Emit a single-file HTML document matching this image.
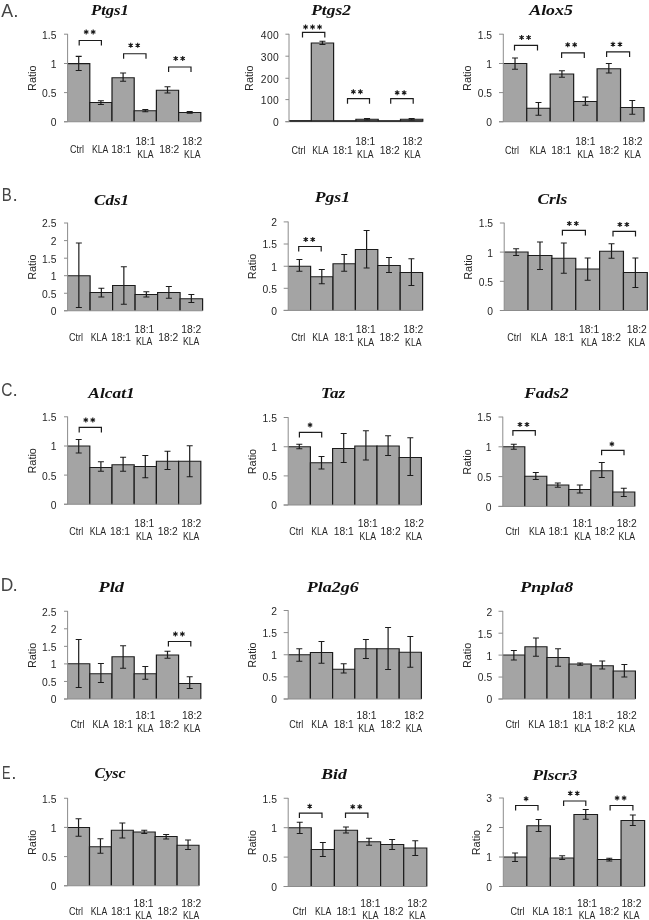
<!DOCTYPE html>
<html><head><meta charset="utf-8"><title>Figure</title><style>
html,body{margin:0;padding:0;background:#fff;}
body{width:649px;height:920px;overflow:hidden;}
svg{display:block;will-change:transform;}
text{font-family:"Liberation Sans",sans-serif;fill:#262626;}
.pl{font-size:19px;fill:#454545;}
.ti{font-family:"Liberation Serif",serif;font-weight:bold;font-style:italic;font-size:15px;text-anchor:start;fill:#111;}
.ra{font-size:10px;text-anchor:middle;}
.tk{font-size:10.3px;text-anchor:end;}
.lb{font-size:10.3px;text-anchor:middle;}
.st{font-size:15px;text-anchor:middle;letter-spacing:1.4px;}
</style></head><body>
<svg width="649" height="920" viewBox="0 0 649 920">
<rect width="649" height="920" fill="#fff"/>
<text transform="translate(1.35,16.6) scale(0.936,1)" class="pl">A</text>
<text x="13.35" y="16.6" class="pl">.</text>
<text transform="translate(1.86,200.5) scale(0.790,1)" class="pl">B</text>
<text x="12.45" y="200.5" class="pl">.</text>
<text transform="translate(1.13,395.5) scale(0.817,1)" class="pl">C</text>
<text x="12.45" y="395.5" class="pl">.</text>
<text transform="translate(0.73,590.5) scale(0.916,1)" class="pl">D</text>
<text x="12.45" y="590.5" class="pl">.</text>
<text transform="translate(2.04,778.7) scale(0.673,1)" class="pl">E</text>
<text x="11.35" y="778.7" class="pl">.</text>
<text transform="translate(91.00,14.6) scale(1.108,1)" class="ti">Ptgs1</text>
<text transform="translate(35.699999999999996,78.27) rotate(-90)" class="ra" textLength="25.4" lengthAdjust="spacingAndGlyphs">Ratio</text>
<rect x="67.60" y="63.60" width="22.20" height="58.15" fill="#a4a4a4"/>
<path d="M67.60 63.60H89.80V121.75" stroke="#1c1c1c" stroke-width="1.2" fill="none"/>
<rect x="89.80" y="102.50" width="22.20" height="19.25" fill="#a4a4a4"/>
<path d="M89.80 121.75V102.50H112.00V121.75" stroke="#1c1c1c" stroke-width="1.2" fill="none"/>
<rect x="112.00" y="77.75" width="22.20" height="44.00" fill="#a4a4a4"/>
<path d="M112.00 121.75V77.75H134.20V121.75" stroke="#1c1c1c" stroke-width="1.2" fill="none"/>
<rect x="134.20" y="110.75" width="22.20" height="11.00" fill="#a4a4a4"/>
<path d="M134.20 121.75V110.75H156.40V121.75" stroke="#1c1c1c" stroke-width="1.2" fill="none"/>
<rect x="156.40" y="90.25" width="22.20" height="31.50" fill="#a4a4a4"/>
<path d="M156.40 121.75V90.25H178.60V121.75" stroke="#1c1c1c" stroke-width="1.2" fill="none"/>
<rect x="178.60" y="112.50" width="22.20" height="9.25" fill="#a4a4a4"/>
<path d="M178.60 121.75V112.50H200.80V121.75" stroke="#1c1c1c" stroke-width="1.2" fill="none"/>
<path d="M67.60 33.90V121.75" stroke="#8c8c8c" stroke-width="1" fill="none"/>
<path d="M64.00 121.75H200.80" stroke="#8c8c8c" stroke-width="1" fill="none"/>
<path d="M64.00 121.75H67.60" stroke="#8c8c8c" stroke-width="1" fill="none"/>
<text x="56.40" y="126.15" class="tk">0</text>
<path d="M64.00 92.60H67.60" stroke="#8c8c8c" stroke-width="1" fill="none"/>
<text x="56.40" y="97.00" class="tk">0.5</text>
<path d="M64.00 63.50H67.60" stroke="#8c8c8c" stroke-width="1" fill="none"/>
<text x="56.40" y="67.90" class="tk">1</text>
<path d="M64.00 34.20H67.60" stroke="#8c8c8c" stroke-width="1" fill="none"/>
<text x="56.40" y="38.60" class="tk">1.5</text>
<path d="M75.70 56.40h6M78.70 56.40V70.50M75.70 70.50h6" stroke="#1c1c1c" stroke-width="1.2" fill="none"/>
<path d="M97.90 100.75h6M100.90 100.75V104.50M97.90 104.50h6" stroke="#1c1c1c" stroke-width="1.2" fill="none"/>
<path d="M120.10 73.00h6M123.10 73.00V81.25M120.10 81.25h6" stroke="#1c1c1c" stroke-width="1.2" fill="none"/>
<path d="M142.30 109.50h6M145.30 109.50V111.75M142.30 111.75h6" stroke="#1c1c1c" stroke-width="1.2" fill="none"/>
<path d="M164.50 86.75h6M167.50 86.75V93.00M164.50 93.00h6" stroke="#1c1c1c" stroke-width="1.2" fill="none"/>
<path d="M186.70 111.50h6M189.70 111.50V113.25M186.70 113.25h6" stroke="#1c1c1c" stroke-width="1.2" fill="none"/>
<path d="M79.20 45.50V40.50H101.40V45.50" stroke="#1c1c1c" stroke-width="1.2" fill="none"/>
<path d="M86.20 29.40v5M84.00 30.65l4.4 2.5M84.00 33.15l4.4 -2.5" stroke="#222" stroke-width="1.15" fill="none"/><circle cx="86.20" cy="31.90" r="1.15" fill="#1a1a1a"/>
<path d="M93.20 29.40v5M91.00 30.65l4.4 2.5M91.00 33.15l4.4 -2.5" stroke="#222" stroke-width="1.15" fill="none"/><circle cx="93.20" cy="31.90" r="1.15" fill="#1a1a1a"/>
<path d="M123.60 58.75V53.75H146.00V58.75" stroke="#1c1c1c" stroke-width="1.2" fill="none"/>
<path d="M130.70 42.65v5M128.50 43.90l4.4 2.5M128.50 46.40l4.4 -2.5" stroke="#222" stroke-width="1.15" fill="none"/><circle cx="130.70" cy="45.15" r="1.15" fill="#1a1a1a"/>
<path d="M137.70 42.65v5M135.50 43.90l4.4 2.5M135.50 46.40l4.4 -2.5" stroke="#222" stroke-width="1.15" fill="none"/><circle cx="137.70" cy="45.15" r="1.15" fill="#1a1a1a"/>
<path d="M168.60 72.00V67.00H191.00V72.00" stroke="#1c1c1c" stroke-width="1.2" fill="none"/>
<path d="M175.70 55.90v5M173.50 57.15l4.4 2.5M173.50 59.65l4.4 -2.5" stroke="#222" stroke-width="1.15" fill="none"/><circle cx="175.70" cy="58.40" r="1.15" fill="#1a1a1a"/>
<path d="M182.70 55.90v5M180.50 57.15l4.4 2.5M180.50 59.65l4.4 -2.5" stroke="#222" stroke-width="1.15" fill="none"/><circle cx="182.70" cy="58.40" r="1.15" fill="#1a1a1a"/>
<text x="76.9" y="153.40" class="lb" textLength="14.0" lengthAdjust="spacingAndGlyphs">Ctrl</text>
<text x="100.2" y="153.40" class="lb" textLength="16.4" lengthAdjust="spacingAndGlyphs">KLA</text>
<text x="121.3" y="153.40" class="lb">18:1</text>
<text x="145.4" y="144.90" class="lb">18:1</text>
<text x="145.4" y="157.80" class="lb" textLength="16.4" lengthAdjust="spacingAndGlyphs">KLA</text>
<text x="169.3" y="153.40" class="lb">18:2</text>
<text x="192.3" y="144.90" class="lb">18:2</text>
<text x="192.3" y="157.80" class="lb" textLength="16.4" lengthAdjust="spacingAndGlyphs">KLA</text>
<text transform="translate(311.25,14.7) scale(1.160,1)" class="ti">Ptgs2</text>
<text transform="translate(252.70000000000002,78.25) rotate(-90)" class="ra" textLength="25.4" lengthAdjust="spacingAndGlyphs">Ratio</text>
<line x1="289.00" x2="311.30" y1="120.90" y2="120.90" stroke="#1c1c1c" stroke-width="1.1"/>
<rect x="311.30" y="43.00" width="22.30" height="78.70" fill="#a4a4a4"/>
<path d="M311.30 121.70V43.00H333.60V121.70" stroke="#1c1c1c" stroke-width="1.2" fill="none"/>
<line x1="333.60" x2="355.90" y1="121.20" y2="121.20" stroke="#1c1c1c" stroke-width="1.1"/>
<rect x="355.90" y="119.25" width="22.30" height="2.45" fill="#a4a4a4"/>
<path d="M355.90 121.70V119.25H378.20V121.70" stroke="#1c1c1c" stroke-width="1.2" fill="none"/>
<line x1="378.20" x2="400.50" y1="121.20" y2="121.20" stroke="#1c1c1c" stroke-width="1.1"/>
<rect x="400.50" y="119.25" width="22.30" height="2.45" fill="#a4a4a4"/>
<path d="M400.50 121.70V119.25H422.80V121.70" stroke="#1c1c1c" stroke-width="1.2" fill="none"/>
<path d="M289.00 33.90V121.70" stroke="#8c8c8c" stroke-width="1" fill="none"/>
<path d="M285.40 121.70H422.80" stroke="#8c8c8c" stroke-width="1" fill="none"/>
<path d="M289.50 120.95H422.80" stroke="#1c1c1c" stroke-width="1.5" fill="none"/>
<path d="M285.40 121.70H289.00" stroke="#8c8c8c" stroke-width="1" fill="none"/>
<text x="278.80" y="126.10" class="tk">0</text>
<path d="M285.40 99.60H289.00" stroke="#8c8c8c" stroke-width="1" fill="none"/>
<text x="279.25" y="104.00" class="tk" style="letter-spacing:0.4px">100</text>
<path d="M285.40 78.25H289.00" stroke="#8c8c8c" stroke-width="1" fill="none"/>
<text x="279.25" y="82.65" class="tk" style="letter-spacing:0.4px">200</text>
<path d="M285.40 56.20H289.00" stroke="#8c8c8c" stroke-width="1" fill="none"/>
<text x="279.25" y="60.60" class="tk" style="letter-spacing:0.4px">300</text>
<path d="M285.40 34.20H289.00" stroke="#8c8c8c" stroke-width="1" fill="none"/>
<text x="279.25" y="38.60" class="tk" style="letter-spacing:0.4px">400</text>
<path d="M319.45 41.25h6M322.45 41.25V44.50M319.45 44.50h6" stroke="#1c1c1c" stroke-width="1.2" fill="none"/>
<path d="M364.05 118.50h6M367.05 118.50V120.00M364.05 120.00h6" stroke="#1c1c1c" stroke-width="1.2" fill="none"/>
<path d="M408.65 118.50h6M411.65 118.50V120.00M408.65 120.00h6" stroke="#1c1c1c" stroke-width="1.2" fill="none"/>
<path d="M302.50 37.40V32.40H324.80V37.40" stroke="#1c1c1c" stroke-width="1.2" fill="none"/>
<path d="M305.55 24.50v5M303.35 25.75l4.4 2.5M303.35 28.25l4.4 -2.5" stroke="#222" stroke-width="1.15" fill="none"/><circle cx="305.55" cy="27.00" r="1.15" fill="#1a1a1a"/>
<path d="M312.55 24.50v5M310.35 25.75l4.4 2.5M310.35 28.25l4.4 -2.5" stroke="#222" stroke-width="1.15" fill="none"/><circle cx="312.55" cy="27.00" r="1.15" fill="#1a1a1a"/>
<path d="M319.55 24.50v5M317.35 25.75l4.4 2.5M317.35 28.25l4.4 -2.5" stroke="#222" stroke-width="1.15" fill="none"/><circle cx="319.55" cy="27.00" r="1.15" fill="#1a1a1a"/>
<path d="M347.50 103.70V98.70H369.50V103.70" stroke="#1c1c1c" stroke-width="1.2" fill="none"/>
<path d="M353.40 89.20v5M351.20 90.45l4.4 2.5M351.20 92.95l4.4 -2.5" stroke="#222" stroke-width="1.15" fill="none"/><circle cx="353.40" cy="91.70" r="1.15" fill="#1a1a1a"/>
<path d="M360.40 89.20v5M358.20 90.45l4.4 2.5M358.20 92.95l4.4 -2.5" stroke="#222" stroke-width="1.15" fill="none"/><circle cx="360.40" cy="91.70" r="1.15" fill="#1a1a1a"/>
<path d="M390.70 103.70V98.70H413.20V103.70" stroke="#1c1c1c" stroke-width="1.2" fill="none"/>
<path d="M397.15 90.20v5M394.95 91.45l4.4 2.5M394.95 93.95l4.4 -2.5" stroke="#222" stroke-width="1.15" fill="none"/><circle cx="397.15" cy="92.70" r="1.15" fill="#1a1a1a"/>
<path d="M404.15 90.20v5M401.95 91.45l4.4 2.5M401.95 93.95l4.4 -2.5" stroke="#222" stroke-width="1.15" fill="none"/><circle cx="404.15" cy="92.70" r="1.15" fill="#1a1a1a"/>
<text x="298.6" y="153.50" class="lb" textLength="14.0" lengthAdjust="spacingAndGlyphs">Ctrl</text>
<text x="320.4" y="153.50" class="lb" textLength="16.4" lengthAdjust="spacingAndGlyphs">KLA</text>
<text x="342.7" y="153.50" class="lb">18:1</text>
<text x="365.3" y="144.90" class="lb">18:1</text>
<text x="365.3" y="157.80" class="lb" textLength="16.4" lengthAdjust="spacingAndGlyphs">KLA</text>
<text x="389.75" y="153.50" class="lb">18:2</text>
<text x="412.4" y="144.90" class="lb">18:2</text>
<text x="412.4" y="157.80" class="lb" textLength="16.4" lengthAdjust="spacingAndGlyphs">KLA</text>
<text transform="translate(529.20,14.6) scale(1.195,1)" class="ti">Alox5</text>
<text transform="translate(470.7,78.27) rotate(-90)" class="ra" textLength="25.4" lengthAdjust="spacingAndGlyphs">Ratio</text>
<rect x="503.30" y="63.50" width="23.45" height="58.25" fill="#a4a4a4"/>
<path d="M503.30 63.50H526.75V121.75" stroke="#1c1c1c" stroke-width="1.2" fill="none"/>
<rect x="526.75" y="108.25" width="23.45" height="13.50" fill="#a4a4a4"/>
<path d="M526.75 121.75V108.25H550.20V121.75" stroke="#1c1c1c" stroke-width="1.2" fill="none"/>
<rect x="550.20" y="74.00" width="23.45" height="47.75" fill="#a4a4a4"/>
<path d="M550.20 121.75V74.00H573.65V121.75" stroke="#1c1c1c" stroke-width="1.2" fill="none"/>
<rect x="573.65" y="101.50" width="23.45" height="20.25" fill="#a4a4a4"/>
<path d="M573.65 121.75V101.50H597.10V121.75" stroke="#1c1c1c" stroke-width="1.2" fill="none"/>
<rect x="597.10" y="68.75" width="23.45" height="53.00" fill="#a4a4a4"/>
<path d="M597.10 121.75V68.75H620.55V121.75" stroke="#1c1c1c" stroke-width="1.2" fill="none"/>
<rect x="620.55" y="107.50" width="23.45" height="14.25" fill="#a4a4a4"/>
<path d="M620.55 121.75V107.50H644.00V121.75" stroke="#1c1c1c" stroke-width="1.2" fill="none"/>
<path d="M503.30 33.90V121.75" stroke="#8c8c8c" stroke-width="1" fill="none"/>
<path d="M499.00 121.75H644.00" stroke="#8c8c8c" stroke-width="1" fill="none"/>
<path d="M499.00 121.75H503.30" stroke="#8c8c8c" stroke-width="1" fill="none"/>
<text x="492.10" y="126.15" class="tk">0</text>
<path d="M499.00 92.60H503.30" stroke="#8c8c8c" stroke-width="1" fill="none"/>
<text x="492.10" y="97.00" class="tk">0.5</text>
<path d="M499.00 63.50H503.30" stroke="#8c8c8c" stroke-width="1" fill="none"/>
<text x="492.10" y="67.90" class="tk">1</text>
<path d="M499.00 34.20H503.30" stroke="#8c8c8c" stroke-width="1" fill="none"/>
<text x="492.10" y="38.60" class="tk">1.5</text>
<path d="M512.02 58.00h6M515.02 58.00V69.25M512.02 69.25h6" stroke="#1c1c1c" stroke-width="1.2" fill="none"/>
<path d="M535.48 102.50h6M538.48 102.50V115.25M535.48 115.25h6" stroke="#1c1c1c" stroke-width="1.2" fill="none"/>
<path d="M558.92 70.75h6M561.92 70.75V77.25M558.92 77.25h6" stroke="#1c1c1c" stroke-width="1.2" fill="none"/>
<path d="M582.38 97.00h6M585.38 97.00V105.25M582.38 105.25h6" stroke="#1c1c1c" stroke-width="1.2" fill="none"/>
<path d="M605.83 63.50h6M608.83 63.50V73.00M605.83 73.00h6" stroke="#1c1c1c" stroke-width="1.2" fill="none"/>
<path d="M629.27 100.50h6M632.27 100.50V114.25M629.27 114.25h6" stroke="#1c1c1c" stroke-width="1.2" fill="none"/>
<path d="M514.50 50.40V45.40H537.50V50.40" stroke="#1c1c1c" stroke-width="1.2" fill="none"/>
<path d="M521.60 35.10v5M519.40 36.35l4.4 2.5M519.40 38.85l4.4 -2.5" stroke="#222" stroke-width="1.15" fill="none"/><circle cx="521.60" cy="37.60" r="1.15" fill="#1a1a1a"/>
<path d="M528.60 35.10v5M526.40 36.35l4.4 2.5M526.40 38.85l4.4 -2.5" stroke="#222" stroke-width="1.15" fill="none"/><circle cx="528.60" cy="37.60" r="1.15" fill="#1a1a1a"/>
<path d="M561.60 57.90V52.90H584.30V57.90" stroke="#1c1c1c" stroke-width="1.2" fill="none"/>
<path d="M567.70 42.20v5M565.50 43.45l4.4 2.5M565.50 45.95l4.4 -2.5" stroke="#222" stroke-width="1.15" fill="none"/><circle cx="567.70" cy="44.70" r="1.15" fill="#1a1a1a"/>
<path d="M574.70 42.20v5M572.50 43.45l4.4 2.5M572.50 45.95l4.4 -2.5" stroke="#222" stroke-width="1.15" fill="none"/><circle cx="574.70" cy="44.70" r="1.15" fill="#1a1a1a"/>
<path d="M606.60 56.90V51.90H629.60V56.90" stroke="#1c1c1c" stroke-width="1.2" fill="none"/>
<path d="M612.95 41.80v5M610.75 43.05l4.4 2.5M610.75 45.55l4.4 -2.5" stroke="#222" stroke-width="1.15" fill="none"/><circle cx="612.95" cy="44.30" r="1.15" fill="#1a1a1a"/>
<path d="M619.95 41.80v5M617.75 43.05l4.4 2.5M617.75 45.55l4.4 -2.5" stroke="#222" stroke-width="1.15" fill="none"/><circle cx="619.95" cy="44.30" r="1.15" fill="#1a1a1a"/>
<text x="512" y="153.50" class="lb" textLength="14.0" lengthAdjust="spacingAndGlyphs">Ctrl</text>
<text x="537.9" y="153.50" class="lb" textLength="16.4" lengthAdjust="spacingAndGlyphs">KLA</text>
<text x="561.3" y="153.50" class="lb">18:1</text>
<text x="585.35" y="144.90" class="lb">18:1</text>
<text x="585.35" y="158.00" class="lb" textLength="16.4" lengthAdjust="spacingAndGlyphs">KLA</text>
<text x="609.1" y="153.50" class="lb">18:2</text>
<text x="632.5" y="144.90" class="lb">18:2</text>
<text x="632.5" y="158.00" class="lb" textLength="16.4" lengthAdjust="spacingAndGlyphs">KLA</text>
<text transform="translate(94.03,205) scale(1.137,1)" class="ti">Cds1</text>
<text transform="translate(35.699999999999996,267.18) rotate(-90)" class="ra" textLength="25.4" lengthAdjust="spacingAndGlyphs">Ratio</text>
<rect x="67.60" y="275.75" width="22.50" height="35.00" fill="#a4a4a4"/>
<path d="M67.60 275.75H90.10V310.75" stroke="#1c1c1c" stroke-width="1.2" fill="none"/>
<rect x="90.10" y="292.50" width="22.50" height="18.25" fill="#a4a4a4"/>
<path d="M90.10 310.75V292.50H112.60V310.75" stroke="#1c1c1c" stroke-width="1.2" fill="none"/>
<rect x="112.60" y="285.50" width="22.50" height="25.25" fill="#a4a4a4"/>
<path d="M112.60 310.75V285.50H135.10V310.75" stroke="#1c1c1c" stroke-width="1.2" fill="none"/>
<rect x="135.10" y="294.50" width="22.50" height="16.25" fill="#a4a4a4"/>
<path d="M135.10 310.75V294.50H157.60V310.75" stroke="#1c1c1c" stroke-width="1.2" fill="none"/>
<rect x="157.60" y="292.50" width="22.50" height="18.25" fill="#a4a4a4"/>
<path d="M157.60 310.75V292.50H180.10V310.75" stroke="#1c1c1c" stroke-width="1.2" fill="none"/>
<rect x="180.10" y="298.75" width="22.50" height="12.00" fill="#a4a4a4"/>
<path d="M180.10 310.75V298.75H202.60V310.75" stroke="#1c1c1c" stroke-width="1.2" fill="none"/>
<path d="M67.60 222.70V310.75" stroke="#8c8c8c" stroke-width="1" fill="none"/>
<path d="M64.00 310.75H202.60" stroke="#8c8c8c" stroke-width="1" fill="none"/>
<path d="M64.00 310.75H67.60" stroke="#8c8c8c" stroke-width="1" fill="none"/>
<text x="56.40" y="315.15" class="tk">0</text>
<path d="M64.00 293.25H67.60" stroke="#8c8c8c" stroke-width="1" fill="none"/>
<text x="56.40" y="297.65" class="tk">0.5</text>
<path d="M64.00 275.70H67.60" stroke="#8c8c8c" stroke-width="1" fill="none"/>
<text x="56.40" y="280.10" class="tk">1</text>
<path d="M64.00 258.20H67.60" stroke="#8c8c8c" stroke-width="1" fill="none"/>
<text x="56.40" y="262.60" class="tk">1.5</text>
<path d="M64.00 240.60H67.60" stroke="#8c8c8c" stroke-width="1" fill="none"/>
<text x="56.40" y="245.00" class="tk">2</text>
<path d="M64.00 223.00H67.60" stroke="#8c8c8c" stroke-width="1" fill="none"/>
<text x="56.40" y="227.40" class="tk">2.5</text>
<path d="M75.85 243.00h6M78.85 243.00V307.50M75.85 307.50h6" stroke="#1c1c1c" stroke-width="1.2" fill="none"/>
<path d="M98.35 288.25h6M101.35 288.25V297.00M98.35 297.00h6" stroke="#1c1c1c" stroke-width="1.2" fill="none"/>
<path d="M120.85 266.75h6M123.85 266.75V304.25M120.85 304.25h6" stroke="#1c1c1c" stroke-width="1.2" fill="none"/>
<path d="M143.35 291.75h6M146.35 291.75V297.00M143.35 297.00h6" stroke="#1c1c1c" stroke-width="1.2" fill="none"/>
<path d="M165.85 286.50h6M168.85 286.50V298.25M165.85 298.25h6" stroke="#1c1c1c" stroke-width="1.2" fill="none"/>
<path d="M188.35 294.50h6M191.35 294.50V302.50M188.35 302.50h6" stroke="#1c1c1c" stroke-width="1.2" fill="none"/>
<text x="76.1" y="340.85" class="lb" textLength="14.0" lengthAdjust="spacingAndGlyphs">Ctrl</text>
<text x="99.0" y="340.85" class="lb" textLength="16.4" lengthAdjust="spacingAndGlyphs">KLA</text>
<text x="121.0" y="340.85" class="lb">18:1</text>
<text x="144.2" y="332.55" class="lb">18:1</text>
<text x="144.2" y="345.15" class="lb" textLength="16.4" lengthAdjust="spacingAndGlyphs">KLA</text>
<text x="168.2" y="340.85" class="lb">18:2</text>
<text x="191.2" y="332.55" class="lb">18:2</text>
<text x="191.2" y="345.15" class="lb" textLength="16.4" lengthAdjust="spacingAndGlyphs">KLA</text>
<text transform="translate(314.70,202.4) scale(1.179,1)" class="ti">Pgs1</text>
<text transform="translate(255.8,266.45) rotate(-90)" class="ra" textLength="25.4" lengthAdjust="spacingAndGlyphs">Ratio</text>
<rect x="288.20" y="266.25" width="22.40" height="44.15" fill="#a4a4a4"/>
<path d="M288.20 266.25H310.60V310.40" stroke="#1c1c1c" stroke-width="1.2" fill="none"/>
<rect x="310.60" y="276.75" width="22.40" height="33.65" fill="#a4a4a4"/>
<path d="M310.60 310.40V276.75H333.00V310.40" stroke="#1c1c1c" stroke-width="1.2" fill="none"/>
<rect x="333.00" y="263.75" width="22.40" height="46.65" fill="#a4a4a4"/>
<path d="M333.00 310.40V263.75H355.40V310.40" stroke="#1c1c1c" stroke-width="1.2" fill="none"/>
<rect x="355.40" y="249.50" width="22.40" height="60.90" fill="#a4a4a4"/>
<path d="M355.40 310.40V249.50H377.80V310.40" stroke="#1c1c1c" stroke-width="1.2" fill="none"/>
<rect x="377.80" y="265.50" width="22.40" height="44.90" fill="#a4a4a4"/>
<path d="M377.80 310.40V265.50H400.20V310.40" stroke="#1c1c1c" stroke-width="1.2" fill="none"/>
<rect x="400.20" y="272.50" width="22.40" height="37.90" fill="#a4a4a4"/>
<path d="M400.20 310.40V272.50H422.60V310.40" stroke="#1c1c1c" stroke-width="1.2" fill="none"/>
<path d="M288.20 221.60V310.40" stroke="#8c8c8c" stroke-width="1" fill="none"/>
<path d="M283.70 310.40H422.60" stroke="#8c8c8c" stroke-width="1" fill="none"/>
<path d="M283.70 310.40H288.20" stroke="#8c8c8c" stroke-width="1" fill="none"/>
<text x="276.90" y="314.80" class="tk">0</text>
<path d="M283.70 288.30H288.20" stroke="#8c8c8c" stroke-width="1" fill="none"/>
<text x="276.90" y="292.70" class="tk">0.5</text>
<path d="M283.70 266.25H288.20" stroke="#8c8c8c" stroke-width="1" fill="none"/>
<text x="276.90" y="270.65" class="tk">1</text>
<path d="M283.70 244.00H288.20" stroke="#8c8c8c" stroke-width="1" fill="none"/>
<text x="276.90" y="248.40" class="tk">1.5</text>
<path d="M283.70 221.90H288.20" stroke="#8c8c8c" stroke-width="1" fill="none"/>
<text x="276.90" y="226.30" class="tk">2</text>
<path d="M296.40 259.50h6M299.40 259.50V271.25M296.40 271.25h6" stroke="#1c1c1c" stroke-width="1.2" fill="none"/>
<path d="M318.80 269.50h6M321.80 269.50V283.75M318.80 283.75h6" stroke="#1c1c1c" stroke-width="1.2" fill="none"/>
<path d="M341.20 254.50h6M344.20 254.50V271.25M341.20 271.25h6" stroke="#1c1c1c" stroke-width="1.2" fill="none"/>
<path d="M363.60 230.50h6M366.60 230.50V268.00M363.60 268.00h6" stroke="#1c1c1c" stroke-width="1.2" fill="none"/>
<path d="M386.00 257.50h6M389.00 257.50V272.50M386.00 272.50h6" stroke="#1c1c1c" stroke-width="1.2" fill="none"/>
<path d="M408.40 258.75h6M411.40 258.75V285.50M408.40 285.50h6" stroke="#1c1c1c" stroke-width="1.2" fill="none"/>
<path d="M298.70 251.50V246.50H321.20V251.50" stroke="#1c1c1c" stroke-width="1.2" fill="none"/>
<path d="M305.75 237.00v5M303.55 238.25l4.4 2.5M303.55 240.75l4.4 -2.5" stroke="#222" stroke-width="1.15" fill="none"/><circle cx="305.75" cy="239.50" r="1.15" fill="#1a1a1a"/>
<path d="M312.75 237.00v5M310.55 238.25l4.4 2.5M310.55 240.75l4.4 -2.5" stroke="#222" stroke-width="1.15" fill="none"/><circle cx="312.75" cy="239.50" r="1.15" fill="#1a1a1a"/>
<text x="298.2" y="340.85" class="lb" textLength="14.0" lengthAdjust="spacingAndGlyphs">Ctrl</text>
<text x="320.4" y="340.85" class="lb" textLength="16.4" lengthAdjust="spacingAndGlyphs">KLA</text>
<text x="343.9" y="340.85" class="lb">18:1</text>
<text x="365.8" y="332.55" class="lb">18:1</text>
<text x="365.8" y="345.60" class="lb" textLength="16.4" lengthAdjust="spacingAndGlyphs">KLA</text>
<text x="389.5" y="340.85" class="lb">18:2</text>
<text x="413.3" y="332.55" class="lb">18:2</text>
<text x="413.3" y="345.60" class="lb" textLength="16.4" lengthAdjust="spacingAndGlyphs">KLA</text>
<text transform="translate(537.42,203.7) scale(1.160,1)" class="ti">Crls</text>
<text transform="translate(471.7,267.05) rotate(-90)" class="ra" textLength="25.4" lengthAdjust="spacingAndGlyphs">Ratio</text>
<rect x="504.20" y="252.00" width="23.85" height="58.50" fill="#a4a4a4"/>
<path d="M504.20 252.00H528.05V310.50" stroke="#1c1c1c" stroke-width="1.2" fill="none"/>
<rect x="528.05" y="255.50" width="23.85" height="55.00" fill="#a4a4a4"/>
<path d="M528.05 310.50V255.50H551.90V310.50" stroke="#1c1c1c" stroke-width="1.2" fill="none"/>
<rect x="551.90" y="258.25" width="23.85" height="52.25" fill="#a4a4a4"/>
<path d="M551.90 310.50V258.25H575.75V310.50" stroke="#1c1c1c" stroke-width="1.2" fill="none"/>
<rect x="575.75" y="269.00" width="23.85" height="41.50" fill="#a4a4a4"/>
<path d="M575.75 310.50V269.00H599.60V310.50" stroke="#1c1c1c" stroke-width="1.2" fill="none"/>
<rect x="599.60" y="251.25" width="23.85" height="59.25" fill="#a4a4a4"/>
<path d="M599.60 310.50V251.25H623.45V310.50" stroke="#1c1c1c" stroke-width="1.2" fill="none"/>
<rect x="623.45" y="272.50" width="23.85" height="38.00" fill="#a4a4a4"/>
<path d="M623.45 310.50V272.50H647.30V310.50" stroke="#1c1c1c" stroke-width="1.2" fill="none"/>
<path d="M504.20 222.70V310.50" stroke="#8c8c8c" stroke-width="1" fill="none"/>
<path d="M499.90 310.50H647.30" stroke="#8c8c8c" stroke-width="1" fill="none"/>
<path d="M499.90 310.50H504.20" stroke="#8c8c8c" stroke-width="1" fill="none"/>
<text x="493.00" y="314.90" class="tk">0</text>
<path d="M499.90 281.30H504.20" stroke="#8c8c8c" stroke-width="1" fill="none"/>
<text x="493.00" y="285.70" class="tk">0.5</text>
<path d="M499.90 252.10H504.20" stroke="#8c8c8c" stroke-width="1" fill="none"/>
<text x="493.00" y="256.50" class="tk">1</text>
<path d="M499.90 223.00H504.20" stroke="#8c8c8c" stroke-width="1" fill="none"/>
<text x="493.00" y="227.40" class="tk">1.5</text>
<path d="M513.12 248.75h6M516.12 248.75V255.50M513.12 255.50h6" stroke="#1c1c1c" stroke-width="1.2" fill="none"/>
<path d="M536.98 242.00h6M539.98 242.00V269.50M536.98 269.50h6" stroke="#1c1c1c" stroke-width="1.2" fill="none"/>
<path d="M560.83 243.00h6M563.83 243.00V273.25M560.83 273.25h6" stroke="#1c1c1c" stroke-width="1.2" fill="none"/>
<path d="M584.67 258.00h6M587.67 258.00V280.25M584.67 280.25h6" stroke="#1c1c1c" stroke-width="1.2" fill="none"/>
<path d="M608.52 243.75h6M611.52 243.75V258.25M608.52 258.25h6" stroke="#1c1c1c" stroke-width="1.2" fill="none"/>
<path d="M632.38 258.00h6M635.38 258.00V287.50M632.38 287.50h6" stroke="#1c1c1c" stroke-width="1.2" fill="none"/>
<path d="M562.40 235.40V230.40H585.40V235.40" stroke="#1c1c1c" stroke-width="1.2" fill="none"/>
<path d="M569.30 221.10v5M567.10 222.35l4.4 2.5M567.10 224.85l4.4 -2.5" stroke="#222" stroke-width="1.15" fill="none"/><circle cx="569.30" cy="223.60" r="1.15" fill="#1a1a1a"/>
<path d="M576.30 221.10v5M574.10 222.35l4.4 2.5M574.10 224.85l4.4 -2.5" stroke="#222" stroke-width="1.15" fill="none"/><circle cx="576.30" cy="223.60" r="1.15" fill="#1a1a1a"/>
<path d="M613.00 236.40V231.40H635.50V236.40" stroke="#1c1c1c" stroke-width="1.2" fill="none"/>
<path d="M619.85 221.90v5M617.65 223.15l4.4 2.5M617.65 225.65l4.4 -2.5" stroke="#222" stroke-width="1.15" fill="none"/><circle cx="619.85" cy="224.40" r="1.15" fill="#1a1a1a"/>
<path d="M626.85 221.90v5M624.65 223.15l4.4 2.5M624.65 225.65l4.4 -2.5" stroke="#222" stroke-width="1.15" fill="none"/><circle cx="626.85" cy="224.40" r="1.15" fill="#1a1a1a"/>
<text x="514.2" y="340.85" class="lb" textLength="14.0" lengthAdjust="spacingAndGlyphs">Ctrl</text>
<text x="539" y="340.85" class="lb" textLength="16.4" lengthAdjust="spacingAndGlyphs">KLA</text>
<text x="564" y="340.85" class="lb">18:1</text>
<text x="589.1" y="332.55" class="lb">18:1</text>
<text x="589.1" y="345.60" class="lb" textLength="16.4" lengthAdjust="spacingAndGlyphs">KLA</text>
<text x="610.9" y="340.85" class="lb">18:2</text>
<text x="636.8" y="332.55" class="lb">18:2</text>
<text x="636.8" y="345.60" class="lb" textLength="16.4" lengthAdjust="spacingAndGlyphs">KLA</text>
<text transform="translate(88.37,397.7) scale(1.159,1)" class="ti">Alcat1</text>
<text transform="translate(35.699999999999996,460.82) rotate(-90)" class="ra" textLength="25.4" lengthAdjust="spacingAndGlyphs">Ratio</text>
<rect x="67.60" y="446.00" width="22.20" height="58.25" fill="#a4a4a4"/>
<path d="M67.60 446.00H89.80V504.25" stroke="#1c1c1c" stroke-width="1.2" fill="none"/>
<rect x="89.80" y="467.50" width="22.20" height="36.75" fill="#a4a4a4"/>
<path d="M89.80 504.25V467.50H112.00V504.25" stroke="#1c1c1c" stroke-width="1.2" fill="none"/>
<rect x="112.00" y="464.75" width="22.20" height="39.50" fill="#a4a4a4"/>
<path d="M112.00 504.25V464.75H134.20V504.25" stroke="#1c1c1c" stroke-width="1.2" fill="none"/>
<rect x="134.20" y="466.50" width="22.20" height="37.75" fill="#a4a4a4"/>
<path d="M134.20 504.25V466.50H156.40V504.25" stroke="#1c1c1c" stroke-width="1.2" fill="none"/>
<rect x="156.40" y="461.25" width="22.20" height="43.00" fill="#a4a4a4"/>
<path d="M156.40 504.25V461.25H178.60V504.25" stroke="#1c1c1c" stroke-width="1.2" fill="none"/>
<rect x="178.60" y="461.25" width="22.20" height="43.00" fill="#a4a4a4"/>
<path d="M178.60 504.25V461.25H200.80V504.25" stroke="#1c1c1c" stroke-width="1.2" fill="none"/>
<path d="M67.60 416.50V504.25" stroke="#8c8c8c" stroke-width="1" fill="none"/>
<path d="M64.00 504.25H200.80" stroke="#8c8c8c" stroke-width="1" fill="none"/>
<path d="M64.00 504.25H67.60" stroke="#8c8c8c" stroke-width="1" fill="none"/>
<text x="56.40" y="508.65" class="tk">0</text>
<path d="M64.00 475.10H67.60" stroke="#8c8c8c" stroke-width="1" fill="none"/>
<text x="56.40" y="479.50" class="tk">0.5</text>
<path d="M64.00 446.00H67.60" stroke="#8c8c8c" stroke-width="1" fill="none"/>
<text x="56.40" y="450.40" class="tk">1</text>
<path d="M64.00 416.80H67.60" stroke="#8c8c8c" stroke-width="1" fill="none"/>
<text x="56.40" y="421.20" class="tk">1.5</text>
<path d="M75.70 439.50h6M78.70 439.50V453.00M75.70 453.00h6" stroke="#1c1c1c" stroke-width="1.2" fill="none"/>
<path d="M97.90 461.75h6M100.90 461.75V471.25M97.90 471.25h6" stroke="#1c1c1c" stroke-width="1.2" fill="none"/>
<path d="M120.10 457.25h6M123.10 457.25V471.25M120.10 471.25h6" stroke="#1c1c1c" stroke-width="1.2" fill="none"/>
<path d="M142.30 455.50h6M145.30 455.50V477.75M142.30 477.75h6" stroke="#1c1c1c" stroke-width="1.2" fill="none"/>
<path d="M164.50 451.25h6M167.50 451.25V469.50M164.50 469.50h6" stroke="#1c1c1c" stroke-width="1.2" fill="none"/>
<path d="M186.70 445.75h6M189.70 445.75V476.75M186.70 476.75h6" stroke="#1c1c1c" stroke-width="1.2" fill="none"/>
<path d="M79.20 432.40V427.40H101.40V432.40" stroke="#1c1c1c" stroke-width="1.2" fill="none"/>
<path d="M85.80 417.50v5M83.60 418.75l4.4 2.5M83.60 421.25l4.4 -2.5" stroke="#222" stroke-width="1.15" fill="none"/><circle cx="85.80" cy="420.00" r="1.15" fill="#1a1a1a"/>
<path d="M92.80 417.50v5M90.60 418.75l4.4 2.5M90.60 421.25l4.4 -2.5" stroke="#222" stroke-width="1.15" fill="none"/><circle cx="92.80" cy="420.00" r="1.15" fill="#1a1a1a"/>
<text x="76.3" y="534.85" class="lb" textLength="14.0" lengthAdjust="spacingAndGlyphs">Ctrl</text>
<text x="97.9" y="534.85" class="lb" textLength="16.4" lengthAdjust="spacingAndGlyphs">KLA</text>
<text x="120" y="534.85" class="lb">18:1</text>
<text x="144.2" y="526.65" class="lb">18:1</text>
<text x="144.2" y="539.60" class="lb" textLength="16.4" lengthAdjust="spacingAndGlyphs">KLA</text>
<text x="167.7" y="534.85" class="lb">18:2</text>
<text x="191.2" y="526.65" class="lb">18:2</text>
<text x="191.2" y="539.60" class="lb" textLength="16.4" lengthAdjust="spacingAndGlyphs">KLA</text>
<text transform="translate(321.06,398.2) scale(1.140,1)" class="ti">Taz</text>
<text transform="translate(255.8,461.55) rotate(-90)" class="ra" textLength="25.4" lengthAdjust="spacingAndGlyphs">Ratio</text>
<rect x="288.20" y="446.75" width="22.20" height="58.25" fill="#a4a4a4"/>
<path d="M288.20 446.75H310.40V505.00" stroke="#1c1c1c" stroke-width="1.2" fill="none"/>
<rect x="310.40" y="462.75" width="22.20" height="42.25" fill="#a4a4a4"/>
<path d="M310.40 505.00V462.75H332.60V505.00" stroke="#1c1c1c" stroke-width="1.2" fill="none"/>
<rect x="332.60" y="448.50" width="22.20" height="56.50" fill="#a4a4a4"/>
<path d="M332.60 505.00V448.50H354.80V505.00" stroke="#1c1c1c" stroke-width="1.2" fill="none"/>
<rect x="354.80" y="446.00" width="22.20" height="59.00" fill="#a4a4a4"/>
<path d="M354.80 505.00V446.00H377.00V505.00" stroke="#1c1c1c" stroke-width="1.2" fill="none"/>
<rect x="377.00" y="446.00" width="22.20" height="59.00" fill="#a4a4a4"/>
<path d="M377.00 505.00V446.00H399.20V505.00" stroke="#1c1c1c" stroke-width="1.2" fill="none"/>
<rect x="399.20" y="457.50" width="22.20" height="47.50" fill="#a4a4a4"/>
<path d="M399.20 505.00V457.50H421.40V505.00" stroke="#1c1c1c" stroke-width="1.2" fill="none"/>
<path d="M288.20 417.20V505.00" stroke="#8c8c8c" stroke-width="1" fill="none"/>
<path d="M283.70 505.00H421.40" stroke="#8c8c8c" stroke-width="1" fill="none"/>
<path d="M283.70 505.00H288.20" stroke="#8c8c8c" stroke-width="1" fill="none"/>
<text x="276.90" y="509.40" class="tk">0</text>
<path d="M283.70 475.90H288.20" stroke="#8c8c8c" stroke-width="1" fill="none"/>
<text x="276.90" y="480.30" class="tk">0.5</text>
<path d="M283.70 446.75H288.20" stroke="#8c8c8c" stroke-width="1" fill="none"/>
<text x="276.90" y="451.15" class="tk">1</text>
<path d="M283.70 417.50H288.20" stroke="#8c8c8c" stroke-width="1" fill="none"/>
<text x="276.90" y="421.90" class="tk">1.5</text>
<path d="M296.30 444.25h6M299.30 444.25V448.75M296.30 448.75h6" stroke="#1c1c1c" stroke-width="1.2" fill="none"/>
<path d="M318.50 456.50h6M321.50 456.50V469.00M318.50 469.00h6" stroke="#1c1c1c" stroke-width="1.2" fill="none"/>
<path d="M340.70 433.50h6M343.70 433.50V462.50M340.70 462.50h6" stroke="#1c1c1c" stroke-width="1.2" fill="none"/>
<path d="M362.90 430.75h6M365.90 430.75V460.00M362.90 460.00h6" stroke="#1c1c1c" stroke-width="1.2" fill="none"/>
<path d="M385.10 435.75h6M388.10 435.75V455.50M385.10 455.50h6" stroke="#1c1c1c" stroke-width="1.2" fill="none"/>
<path d="M407.30 437.75h6M410.30 437.75V475.50M407.30 475.50h6" stroke="#1c1c1c" stroke-width="1.2" fill="none"/>
<path d="M299.40 437.40V432.40H321.70V437.40" stroke="#1c1c1c" stroke-width="1.2" fill="none"/>
<path d="M310.05 422.50v5M307.85 423.75l4.4 2.5M307.85 426.25l4.4 -2.5" stroke="#222" stroke-width="1.15" fill="none"/><circle cx="310.05" cy="425.00" r="1.15" fill="#1a1a1a"/>
<text x="296.25" y="534.85" class="lb" textLength="14.0" lengthAdjust="spacingAndGlyphs">Ctrl</text>
<text x="319.5" y="534.85" class="lb" textLength="16.4" lengthAdjust="spacingAndGlyphs">KLA</text>
<text x="343.7" y="534.85" class="lb">18:1</text>
<text x="367.75" y="526.65" class="lb">18:1</text>
<text x="367.75" y="539.60" class="lb" textLength="16.4" lengthAdjust="spacingAndGlyphs">KLA</text>
<text x="390.6" y="534.85" class="lb">18:2</text>
<text x="413.9" y="526.65" class="lb">18:2</text>
<text x="413.9" y="539.60" class="lb" textLength="16.4" lengthAdjust="spacingAndGlyphs">KLA</text>
<text transform="translate(524.20,397.6) scale(1.161,1)" class="ti">Fads2</text>
<text transform="translate(470.7,462.00) rotate(-90)" class="ra" textLength="25.4" lengthAdjust="spacingAndGlyphs">Ratio</text>
<rect x="502.80" y="446.75" width="22.00" height="59.65" fill="#a4a4a4"/>
<path d="M502.80 446.75H524.80V506.40" stroke="#1c1c1c" stroke-width="1.2" fill="none"/>
<rect x="524.80" y="476.25" width="22.00" height="30.15" fill="#a4a4a4"/>
<path d="M524.80 506.40V476.25H546.80V506.40" stroke="#1c1c1c" stroke-width="1.2" fill="none"/>
<rect x="546.80" y="485.00" width="22.00" height="21.40" fill="#a4a4a4"/>
<path d="M546.80 506.40V485.00H568.80V506.40" stroke="#1c1c1c" stroke-width="1.2" fill="none"/>
<rect x="568.80" y="489.50" width="22.00" height="16.90" fill="#a4a4a4"/>
<path d="M568.80 506.40V489.50H590.80V506.40" stroke="#1c1c1c" stroke-width="1.2" fill="none"/>
<rect x="590.80" y="470.75" width="22.00" height="35.65" fill="#a4a4a4"/>
<path d="M590.80 506.40V470.75H612.80V506.40" stroke="#1c1c1c" stroke-width="1.2" fill="none"/>
<rect x="612.80" y="492.00" width="22.00" height="14.40" fill="#a4a4a4"/>
<path d="M612.80 506.40V492.00H634.80V506.40" stroke="#1c1c1c" stroke-width="1.2" fill="none"/>
<path d="M502.80 416.70V506.40" stroke="#8c8c8c" stroke-width="1" fill="none"/>
<path d="M498.50 506.40H634.80" stroke="#8c8c8c" stroke-width="1" fill="none"/>
<path d="M498.50 506.40H502.80" stroke="#8c8c8c" stroke-width="1" fill="none"/>
<text x="491.60" y="510.80" class="tk">0</text>
<path d="M498.50 476.60H502.80" stroke="#8c8c8c" stroke-width="1" fill="none"/>
<text x="491.60" y="481.00" class="tk">0.5</text>
<path d="M498.50 446.80H502.80" stroke="#8c8c8c" stroke-width="1" fill="none"/>
<text x="491.60" y="451.20" class="tk">1</text>
<path d="M498.50 417.00H502.80" stroke="#8c8c8c" stroke-width="1" fill="none"/>
<text x="491.60" y="421.40" class="tk">1.5</text>
<path d="M510.80 444.25h6M513.80 444.25V449.25M510.80 449.25h6" stroke="#1c1c1c" stroke-width="1.2" fill="none"/>
<path d="M532.80 472.50h6M535.80 472.50V479.50M532.80 479.50h6" stroke="#1c1c1c" stroke-width="1.2" fill="none"/>
<path d="M554.80 483.00h6M557.80 483.00V487.25M554.80 487.25h6" stroke="#1c1c1c" stroke-width="1.2" fill="none"/>
<path d="M576.80 485.00h6M579.80 485.00V493.00M576.80 493.00h6" stroke="#1c1c1c" stroke-width="1.2" fill="none"/>
<path d="M598.80 462.50h6M601.80 462.50V477.50M598.80 477.50h6" stroke="#1c1c1c" stroke-width="1.2" fill="none"/>
<path d="M620.80 488.25h6M623.80 488.25V496.50M620.80 496.50h6" stroke="#1c1c1c" stroke-width="1.2" fill="none"/>
<path d="M512.90 435.70V430.70H535.30V435.70" stroke="#1c1c1c" stroke-width="1.2" fill="none"/>
<path d="M519.95 421.90v5M517.75 423.15l4.4 2.5M517.75 425.65l4.4 -2.5" stroke="#222" stroke-width="1.15" fill="none"/><circle cx="519.95" cy="424.40" r="1.15" fill="#1a1a1a"/>
<path d="M526.95 421.90v5M524.75 423.15l4.4 2.5M524.75 425.65l4.4 -2.5" stroke="#222" stroke-width="1.15" fill="none"/><circle cx="526.95" cy="424.40" r="1.15" fill="#1a1a1a"/>
<path d="M601.60 455.35V450.35H624.00V455.35" stroke="#1c1c1c" stroke-width="1.2" fill="none"/>
<path d="M611.90 441.60v5M609.70 442.85l4.4 2.5M609.70 445.35l4.4 -2.5" stroke="#222" stroke-width="1.15" fill="none"/><circle cx="611.90" cy="444.10" r="1.15" fill="#1a1a1a"/>
<text x="512.6" y="534.85" class="lb" textLength="14.0" lengthAdjust="spacingAndGlyphs">Ctrl</text>
<text x="537.2" y="534.85" class="lb" textLength="16.4" lengthAdjust="spacingAndGlyphs">KLA</text>
<text x="558.55" y="534.85" class="lb">18:1</text>
<text x="582.5" y="526.65" class="lb">18:1</text>
<text x="582.5" y="539.60" class="lb" textLength="16.4" lengthAdjust="spacingAndGlyphs">KLA</text>
<text x="604.6" y="534.85" class="lb">18:2</text>
<text x="626.8" y="526.65" class="lb">18:2</text>
<text x="626.8" y="539.60" class="lb" textLength="16.4" lengthAdjust="spacingAndGlyphs">KLA</text>
<text transform="translate(98.50,592.2) scale(1.219,1)" class="ti">Pld</text>
<text transform="translate(35.699999999999996,655.42) rotate(-90)" class="ra" textLength="25.4" lengthAdjust="spacingAndGlyphs">Ratio</text>
<rect x="67.60" y="663.75" width="22.20" height="35.25" fill="#a4a4a4"/>
<path d="M67.60 663.75H89.80V699.00" stroke="#1c1c1c" stroke-width="1.2" fill="none"/>
<rect x="89.80" y="673.75" width="22.20" height="25.25" fill="#a4a4a4"/>
<path d="M89.80 699.00V673.75H112.00V699.00" stroke="#1c1c1c" stroke-width="1.2" fill="none"/>
<rect x="112.00" y="656.75" width="22.20" height="42.25" fill="#a4a4a4"/>
<path d="M112.00 699.00V656.75H134.20V699.00" stroke="#1c1c1c" stroke-width="1.2" fill="none"/>
<rect x="134.20" y="673.75" width="22.20" height="25.25" fill="#a4a4a4"/>
<path d="M134.20 699.00V673.75H156.40V699.00" stroke="#1c1c1c" stroke-width="1.2" fill="none"/>
<rect x="156.40" y="655.00" width="22.20" height="44.00" fill="#a4a4a4"/>
<path d="M156.40 699.00V655.00H178.60V699.00" stroke="#1c1c1c" stroke-width="1.2" fill="none"/>
<rect x="178.60" y="683.50" width="22.20" height="15.50" fill="#a4a4a4"/>
<path d="M178.60 699.00V683.50H200.80V699.00" stroke="#1c1c1c" stroke-width="1.2" fill="none"/>
<path d="M67.60 610.95V699.00" stroke="#8c8c8c" stroke-width="1" fill="none"/>
<path d="M64.00 699.00H200.80" stroke="#8c8c8c" stroke-width="1" fill="none"/>
<path d="M64.00 699.00H67.60" stroke="#8c8c8c" stroke-width="1" fill="none"/>
<text x="56.40" y="703.40" class="tk">0</text>
<path d="M64.00 681.45H67.60" stroke="#8c8c8c" stroke-width="1" fill="none"/>
<text x="56.40" y="685.85" class="tk">0.5</text>
<path d="M64.00 663.90H67.60" stroke="#8c8c8c" stroke-width="1" fill="none"/>
<text x="56.40" y="668.30" class="tk">1</text>
<path d="M64.00 646.35H67.60" stroke="#8c8c8c" stroke-width="1" fill="none"/>
<text x="56.40" y="650.75" class="tk">1.5</text>
<path d="M64.00 628.80H67.60" stroke="#8c8c8c" stroke-width="1" fill="none"/>
<text x="56.40" y="633.20" class="tk">2</text>
<path d="M64.00 611.25H67.60" stroke="#8c8c8c" stroke-width="1" fill="none"/>
<text x="56.40" y="615.65" class="tk">2.5</text>
<path d="M75.70 639.50h6M78.70 639.50V687.50M75.70 687.50h6" stroke="#1c1c1c" stroke-width="1.2" fill="none"/>
<path d="M97.90 663.50h6M100.90 663.50V682.50M97.90 682.50h6" stroke="#1c1c1c" stroke-width="1.2" fill="none"/>
<path d="M120.10 645.75h6M123.10 645.75V668.25M120.10 668.25h6" stroke="#1c1c1c" stroke-width="1.2" fill="none"/>
<path d="M142.30 666.50h6M145.30 666.50V679.25M142.30 679.25h6" stroke="#1c1c1c" stroke-width="1.2" fill="none"/>
<path d="M164.50 651.25h6M167.50 651.25V658.25M164.50 658.25h6" stroke="#1c1c1c" stroke-width="1.2" fill="none"/>
<path d="M186.70 676.75h6M189.70 676.75V688.50M186.70 688.50h6" stroke="#1c1c1c" stroke-width="1.2" fill="none"/>
<path d="M168.40 646.50V641.50H190.80V646.50" stroke="#1c1c1c" stroke-width="1.2" fill="none"/>
<path d="M175.40 631.60v5M173.20 632.85l4.4 2.5M173.20 635.35l4.4 -2.5" stroke="#222" stroke-width="1.15" fill="none"/><circle cx="175.40" cy="634.10" r="1.15" fill="#1a1a1a"/>
<path d="M182.40 631.60v5M180.20 632.85l4.4 2.5M180.20 635.35l4.4 -2.5" stroke="#222" stroke-width="1.15" fill="none"/><circle cx="182.40" cy="634.10" r="1.15" fill="#1a1a1a"/>
<text x="77.4" y="727.50" class="lb" textLength="14.0" lengthAdjust="spacingAndGlyphs">Ctrl</text>
<text x="100.7" y="727.50" class="lb" textLength="16.4" lengthAdjust="spacingAndGlyphs">KLA</text>
<text x="122.9" y="727.50" class="lb">18:1</text>
<text x="145.35" y="719.20" class="lb">18:1</text>
<text x="145.35" y="732.35" class="lb" textLength="16.4" lengthAdjust="spacingAndGlyphs">KLA</text>
<text x="169.1" y="727.50" class="lb">18:2</text>
<text x="192.05" y="719.20" class="lb">18:2</text>
<text x="192.05" y="732.35" class="lb" textLength="16.4" lengthAdjust="spacingAndGlyphs">KLA</text>
<text transform="translate(306.70,592) scale(1.202,1)" class="ti">Pla2g6</text>
<text transform="translate(255.8,655.05) rotate(-90)" class="ra" textLength="25.4" lengthAdjust="spacingAndGlyphs">Ratio</text>
<rect x="288.20" y="654.75" width="22.20" height="44.25" fill="#a4a4a4"/>
<path d="M288.20 654.75H310.40V699.00" stroke="#1c1c1c" stroke-width="1.2" fill="none"/>
<rect x="310.40" y="652.50" width="22.20" height="46.50" fill="#a4a4a4"/>
<path d="M310.40 699.00V652.50H332.60V699.00" stroke="#1c1c1c" stroke-width="1.2" fill="none"/>
<rect x="332.60" y="669.25" width="22.20" height="29.75" fill="#a4a4a4"/>
<path d="M332.60 699.00V669.25H354.80V699.00" stroke="#1c1c1c" stroke-width="1.2" fill="none"/>
<rect x="354.80" y="648.75" width="22.20" height="50.25" fill="#a4a4a4"/>
<path d="M354.80 699.00V648.75H377.00V699.00" stroke="#1c1c1c" stroke-width="1.2" fill="none"/>
<rect x="377.00" y="648.75" width="22.20" height="50.25" fill="#a4a4a4"/>
<path d="M377.00 699.00V648.75H399.20V699.00" stroke="#1c1c1c" stroke-width="1.2" fill="none"/>
<rect x="399.20" y="652.25" width="22.20" height="46.75" fill="#a4a4a4"/>
<path d="M399.20 699.00V652.25H421.40V699.00" stroke="#1c1c1c" stroke-width="1.2" fill="none"/>
<path d="M288.20 610.20V699.00" stroke="#8c8c8c" stroke-width="1" fill="none"/>
<path d="M283.70 699.00H421.40" stroke="#8c8c8c" stroke-width="1" fill="none"/>
<path d="M283.70 699.00H288.20" stroke="#8c8c8c" stroke-width="1" fill="none"/>
<text x="276.90" y="703.40" class="tk">0</text>
<path d="M283.70 676.90H288.20" stroke="#8c8c8c" stroke-width="1" fill="none"/>
<text x="276.90" y="681.30" class="tk">0.5</text>
<path d="M283.70 654.75H288.20" stroke="#8c8c8c" stroke-width="1" fill="none"/>
<text x="276.90" y="659.15" class="tk">1</text>
<path d="M283.70 632.60H288.20" stroke="#8c8c8c" stroke-width="1" fill="none"/>
<text x="276.90" y="637.00" class="tk">1.5</text>
<path d="M283.70 610.50H288.20" stroke="#8c8c8c" stroke-width="1" fill="none"/>
<text x="276.90" y="614.90" class="tk">2</text>
<path d="M296.30 648.75h6M299.30 648.75V661.25M296.30 661.25h6" stroke="#1c1c1c" stroke-width="1.2" fill="none"/>
<path d="M318.50 641.50h6M321.50 641.50V663.25M318.50 663.25h6" stroke="#1c1c1c" stroke-width="1.2" fill="none"/>
<path d="M340.70 663.75h6M343.70 663.75V673.00M340.70 673.00h6" stroke="#1c1c1c" stroke-width="1.2" fill="none"/>
<path d="M362.90 639.50h6M365.90 639.50V658.50M362.90 658.50h6" stroke="#1c1c1c" stroke-width="1.2" fill="none"/>
<path d="M385.10 627.50h6M388.10 627.50V669.50M385.10 669.50h6" stroke="#1c1c1c" stroke-width="1.2" fill="none"/>
<path d="M407.30 636.50h6M410.30 636.50V667.25M407.30 667.25h6" stroke="#1c1c1c" stroke-width="1.2" fill="none"/>
<text x="296.25" y="727.50" class="lb" textLength="14.0" lengthAdjust="spacingAndGlyphs">Ctrl</text>
<text x="319.55" y="727.50" class="lb" textLength="16.4" lengthAdjust="spacingAndGlyphs">KLA</text>
<text x="343.7" y="727.50" class="lb">18:1</text>
<text x="366.45" y="719.20" class="lb">18:1</text>
<text x="366.45" y="732.35" class="lb" textLength="16.4" lengthAdjust="spacingAndGlyphs">KLA</text>
<text x="390.6" y="727.50" class="lb">18:2</text>
<text x="413.9" y="719.20" class="lb">18:2</text>
<text x="413.9" y="732.35" class="lb" textLength="16.4" lengthAdjust="spacingAndGlyphs">KLA</text>
<text transform="translate(520.30,592) scale(1.198,1)" class="ti">Pnpla8</text>
<text transform="translate(470.7,655.42) rotate(-90)" class="ra" textLength="25.4" lengthAdjust="spacingAndGlyphs">Ratio</text>
<rect x="502.80" y="655.00" width="22.10" height="44.00" fill="#a4a4a4"/>
<path d="M502.80 655.00H524.90V699.00" stroke="#1c1c1c" stroke-width="1.2" fill="none"/>
<rect x="524.90" y="646.75" width="22.10" height="52.25" fill="#a4a4a4"/>
<path d="M524.90 699.00V646.75H547.00V699.00" stroke="#1c1c1c" stroke-width="1.2" fill="none"/>
<rect x="547.00" y="657.50" width="22.10" height="41.50" fill="#a4a4a4"/>
<path d="M547.00 699.00V657.50H569.10V699.00" stroke="#1c1c1c" stroke-width="1.2" fill="none"/>
<rect x="569.10" y="664.00" width="22.10" height="35.00" fill="#a4a4a4"/>
<path d="M569.10 699.00V664.00H591.20V699.00" stroke="#1c1c1c" stroke-width="1.2" fill="none"/>
<rect x="591.20" y="665.75" width="22.10" height="33.25" fill="#a4a4a4"/>
<path d="M591.20 699.00V665.75H613.30V699.00" stroke="#1c1c1c" stroke-width="1.2" fill="none"/>
<rect x="613.30" y="671.00" width="22.10" height="28.00" fill="#a4a4a4"/>
<path d="M613.30 699.00V671.00H635.40V699.00" stroke="#1c1c1c" stroke-width="1.2" fill="none"/>
<path d="M502.80 610.95V699.00" stroke="#8c8c8c" stroke-width="1" fill="none"/>
<path d="M498.50 699.00H635.40" stroke="#8c8c8c" stroke-width="1" fill="none"/>
<path d="M498.50 699.00H502.80" stroke="#8c8c8c" stroke-width="1" fill="none"/>
<text x="492.20" y="703.40" class="tk">0</text>
<path d="M498.50 677.05H502.80" stroke="#8c8c8c" stroke-width="1" fill="none"/>
<text x="492.20" y="681.45" class="tk">0.5</text>
<path d="M498.50 655.10H502.80" stroke="#8c8c8c" stroke-width="1" fill="none"/>
<text x="492.20" y="659.50" class="tk">1</text>
<path d="M498.50 633.20H502.80" stroke="#8c8c8c" stroke-width="1" fill="none"/>
<text x="492.20" y="637.60" class="tk">1.5</text>
<path d="M498.50 611.25H502.80" stroke="#8c8c8c" stroke-width="1" fill="none"/>
<text x="492.20" y="615.65" class="tk">2</text>
<path d="M510.85 650.50h6M513.85 650.50V660.00M510.85 660.00h6" stroke="#1c1c1c" stroke-width="1.2" fill="none"/>
<path d="M532.95 638.00h6M535.95 638.00V656.25M532.95 656.25h6" stroke="#1c1c1c" stroke-width="1.2" fill="none"/>
<path d="M555.05 648.75h6M558.05 648.75V666.25M555.05 666.25h6" stroke="#1c1c1c" stroke-width="1.2" fill="none"/>
<path d="M577.15 663.00h6M580.15 663.00V665.25M577.15 665.25h6" stroke="#1c1c1c" stroke-width="1.2" fill="none"/>
<path d="M599.25 661.00h6M602.25 661.00V669.00M599.25 669.00h6" stroke="#1c1c1c" stroke-width="1.2" fill="none"/>
<path d="M621.35 664.50h6M624.35 664.50V677.00M621.35 677.00h6" stroke="#1c1c1c" stroke-width="1.2" fill="none"/>
<text x="512.4" y="727.50" class="lb" textLength="14.0" lengthAdjust="spacingAndGlyphs">Ctrl</text>
<text x="536.55" y="727.50" class="lb" textLength="16.4" lengthAdjust="spacingAndGlyphs">KLA</text>
<text x="558.55" y="727.50" class="lb">18:1</text>
<text x="582.5" y="719.20" class="lb">18:1</text>
<text x="582.5" y="732.35" class="lb" textLength="16.4" lengthAdjust="spacingAndGlyphs">KLA</text>
<text x="604.1" y="727.50" class="lb">18:2</text>
<text x="626.8" y="719.20" class="lb">18:2</text>
<text x="626.8" y="732.35" class="lb" textLength="16.4" lengthAdjust="spacingAndGlyphs">KLA</text>
<text transform="translate(94.46,778.3) scale(1.070,1)" class="ti">Cysc</text>
<text transform="translate(35.699999999999996,842.30) rotate(-90)" class="ra" textLength="25.4" lengthAdjust="spacingAndGlyphs">Ratio</text>
<rect x="67.60" y="827.50" width="21.90" height="58.25" fill="#a4a4a4"/>
<path d="M67.60 827.50H89.50V885.75" stroke="#1c1c1c" stroke-width="1.2" fill="none"/>
<rect x="89.50" y="846.75" width="21.90" height="39.00" fill="#a4a4a4"/>
<path d="M89.50 885.75V846.75H111.40V885.75" stroke="#1c1c1c" stroke-width="1.2" fill="none"/>
<rect x="111.40" y="830.25" width="21.90" height="55.50" fill="#a4a4a4"/>
<path d="M111.40 885.75V830.25H133.30V885.75" stroke="#1c1c1c" stroke-width="1.2" fill="none"/>
<rect x="133.30" y="832.00" width="21.90" height="53.75" fill="#a4a4a4"/>
<path d="M133.30 885.75V832.00H155.20V885.75" stroke="#1c1c1c" stroke-width="1.2" fill="none"/>
<rect x="155.20" y="836.50" width="21.90" height="49.25" fill="#a4a4a4"/>
<path d="M155.20 885.75V836.50H177.10V885.75" stroke="#1c1c1c" stroke-width="1.2" fill="none"/>
<rect x="177.10" y="845.25" width="21.90" height="40.50" fill="#a4a4a4"/>
<path d="M177.10 885.75V845.25H199.00V885.75" stroke="#1c1c1c" stroke-width="1.2" fill="none"/>
<path d="M67.60 797.95V885.75" stroke="#8c8c8c" stroke-width="1" fill="none"/>
<path d="M64.00 885.75H199.00" stroke="#8c8c8c" stroke-width="1" fill="none"/>
<path d="M64.00 885.75H67.60" stroke="#8c8c8c" stroke-width="1" fill="none"/>
<text x="56.40" y="890.15" class="tk">0</text>
<path d="M64.00 856.60H67.60" stroke="#8c8c8c" stroke-width="1" fill="none"/>
<text x="56.40" y="861.00" class="tk">0.5</text>
<path d="M64.00 827.40H67.60" stroke="#8c8c8c" stroke-width="1" fill="none"/>
<text x="56.40" y="831.80" class="tk">1</text>
<path d="M64.00 798.25H67.60" stroke="#8c8c8c" stroke-width="1" fill="none"/>
<text x="56.40" y="802.65" class="tk">1.5</text>
<path d="M75.55 818.75h6M78.55 818.75V836.25M75.55 836.25h6" stroke="#1c1c1c" stroke-width="1.2" fill="none"/>
<path d="M97.45 838.75h6M100.45 838.75V853.25M97.45 853.25h6" stroke="#1c1c1c" stroke-width="1.2" fill="none"/>
<path d="M119.35 823.00h6M122.35 823.00V838.00M119.35 838.00h6" stroke="#1c1c1c" stroke-width="1.2" fill="none"/>
<path d="M141.25 830.25h6M144.25 830.25V833.50M141.25 833.50h6" stroke="#1c1c1c" stroke-width="1.2" fill="none"/>
<path d="M163.15 834.50h6M166.15 834.50V839.00M163.15 839.00h6" stroke="#1c1c1c" stroke-width="1.2" fill="none"/>
<path d="M185.05 840.00h6M188.05 840.00V849.50M185.05 849.50h6" stroke="#1c1c1c" stroke-width="1.2" fill="none"/>
<text x="76.1" y="914.95" class="lb" textLength="14.0" lengthAdjust="spacingAndGlyphs">Ctrl</text>
<text x="99" y="914.95" class="lb" textLength="16.4" lengthAdjust="spacingAndGlyphs">KLA</text>
<text x="121.1" y="914.95" class="lb">18:1</text>
<text x="143.5" y="906.95" class="lb">18:1</text>
<text x="143.5" y="919.05" class="lb" textLength="16.4" lengthAdjust="spacingAndGlyphs">KLA</text>
<text x="167.5" y="914.95" class="lb">18:2</text>
<text x="191.2" y="906.95" class="lb">18:2</text>
<text x="191.2" y="919.05" class="lb" textLength="16.4" lengthAdjust="spacingAndGlyphs">KLA</text>
<text transform="translate(321.30,778.7) scale(1.182,1)" class="ti">Bid</text>
<text transform="translate(255.8,842.67) rotate(-90)" class="ra" textLength="25.4" lengthAdjust="spacingAndGlyphs">Ratio</text>
<rect x="288.20" y="827.75" width="23.10" height="58.75" fill="#a4a4a4"/>
<path d="M288.20 827.75H311.30V886.50" stroke="#1c1c1c" stroke-width="1.2" fill="none"/>
<rect x="311.30" y="849.50" width="23.10" height="37.00" fill="#a4a4a4"/>
<path d="M311.30 886.50V849.50H334.40V886.50" stroke="#1c1c1c" stroke-width="1.2" fill="none"/>
<rect x="334.40" y="830.25" width="23.10" height="56.25" fill="#a4a4a4"/>
<path d="M334.40 886.50V830.25H357.50V886.50" stroke="#1c1c1c" stroke-width="1.2" fill="none"/>
<rect x="357.50" y="841.75" width="23.10" height="44.75" fill="#a4a4a4"/>
<path d="M357.50 886.50V841.75H380.60V886.50" stroke="#1c1c1c" stroke-width="1.2" fill="none"/>
<rect x="380.60" y="844.50" width="23.10" height="42.00" fill="#a4a4a4"/>
<path d="M380.60 886.50V844.50H403.70V886.50" stroke="#1c1c1c" stroke-width="1.2" fill="none"/>
<rect x="403.70" y="848.00" width="23.10" height="38.50" fill="#a4a4a4"/>
<path d="M403.70 886.50V848.00H426.80V886.50" stroke="#1c1c1c" stroke-width="1.2" fill="none"/>
<path d="M288.20 797.95V886.50" stroke="#8c8c8c" stroke-width="1" fill="none"/>
<path d="M283.70 886.50H426.80" stroke="#8c8c8c" stroke-width="1" fill="none"/>
<path d="M283.70 886.50H288.20" stroke="#8c8c8c" stroke-width="1" fill="none"/>
<text x="276.90" y="890.90" class="tk">0</text>
<path d="M283.70 857.10H288.20" stroke="#8c8c8c" stroke-width="1" fill="none"/>
<text x="276.90" y="861.50" class="tk">0.5</text>
<path d="M283.70 827.70H288.20" stroke="#8c8c8c" stroke-width="1" fill="none"/>
<text x="276.90" y="832.10" class="tk">1</text>
<path d="M283.70 798.25H288.20" stroke="#8c8c8c" stroke-width="1" fill="none"/>
<text x="276.90" y="802.65" class="tk">1.5</text>
<path d="M296.75 822.25h6M299.75 822.25V833.50M296.75 833.50h6" stroke="#1c1c1c" stroke-width="1.2" fill="none"/>
<path d="M319.85 842.50h6M322.85 842.50V856.50M319.85 856.50h6" stroke="#1c1c1c" stroke-width="1.2" fill="none"/>
<path d="M342.95 827.00h6M345.95 827.00V833.00M342.95 833.00h6" stroke="#1c1c1c" stroke-width="1.2" fill="none"/>
<path d="M366.05 838.25h6M369.05 838.25V845.25M366.05 845.25h6" stroke="#1c1c1c" stroke-width="1.2" fill="none"/>
<path d="M389.15 839.50h6M392.15 839.50V849.50M389.15 849.50h6" stroke="#1c1c1c" stroke-width="1.2" fill="none"/>
<path d="M412.25 840.75h6M415.25 840.75V855.50M412.25 855.50h6" stroke="#1c1c1c" stroke-width="1.2" fill="none"/>
<path d="M299.40 818.10V813.10H322.00V818.10" stroke="#1c1c1c" stroke-width="1.2" fill="none"/>
<path d="M309.70 803.70v5M307.50 804.95l4.4 2.5M307.50 807.45l4.4 -2.5" stroke="#222" stroke-width="1.15" fill="none"/><circle cx="309.70" cy="806.20" r="1.15" fill="#1a1a1a"/>
<path d="M345.50 818.10V813.10H367.90V818.10" stroke="#1c1c1c" stroke-width="1.2" fill="none"/>
<path d="M352.75 804.30v5M350.55 805.55l4.4 2.5M350.55 808.05l4.4 -2.5" stroke="#222" stroke-width="1.15" fill="none"/><circle cx="352.75" cy="806.80" r="1.15" fill="#1a1a1a"/>
<path d="M359.75 804.30v5M357.55 805.55l4.4 2.5M357.55 808.05l4.4 -2.5" stroke="#222" stroke-width="1.15" fill="none"/><circle cx="359.75" cy="806.80" r="1.15" fill="#1a1a1a"/>
<text x="299.5" y="914.95" class="lb" textLength="14.0" lengthAdjust="spacingAndGlyphs">Ctrl</text>
<text x="323.2" y="914.95" class="lb" textLength="16.4" lengthAdjust="spacingAndGlyphs">KLA</text>
<text x="346.4" y="914.95" class="lb">18:1</text>
<text x="370.35" y="906.95" class="lb">18:1</text>
<text x="370.35" y="919.05" class="lb" textLength="16.4" lengthAdjust="spacingAndGlyphs">KLA</text>
<text x="393.5" y="914.95" class="lb">18:2</text>
<text x="417.25" y="906.95" class="lb">18:2</text>
<text x="417.25" y="919.05" class="lb" textLength="16.4" lengthAdjust="spacingAndGlyphs">KLA</text>
<text transform="translate(532.50,779.7) scale(1.148,1)" class="ti">Plscr3</text>
<text transform="translate(479.7,842.55) rotate(-90)" class="ra" textLength="25.4" lengthAdjust="spacingAndGlyphs">Ratio</text>
<rect x="503.30" y="857.00" width="23.55" height="29.50" fill="#a4a4a4"/>
<path d="M503.30 857.00H526.85V886.50" stroke="#1c1c1c" stroke-width="1.2" fill="none"/>
<rect x="526.85" y="825.75" width="23.55" height="60.75" fill="#a4a4a4"/>
<path d="M526.85 886.50V825.75H550.40V886.50" stroke="#1c1c1c" stroke-width="1.2" fill="none"/>
<rect x="550.40" y="858.00" width="23.55" height="28.50" fill="#a4a4a4"/>
<path d="M550.40 886.50V858.00H573.95V886.50" stroke="#1c1c1c" stroke-width="1.2" fill="none"/>
<rect x="573.95" y="814.50" width="23.55" height="72.00" fill="#a4a4a4"/>
<path d="M573.95 886.50V814.50H597.50V886.50" stroke="#1c1c1c" stroke-width="1.2" fill="none"/>
<rect x="597.50" y="859.50" width="23.55" height="27.00" fill="#a4a4a4"/>
<path d="M597.50 886.50V859.50H621.05V886.50" stroke="#1c1c1c" stroke-width="1.2" fill="none"/>
<rect x="621.05" y="820.50" width="23.55" height="66.00" fill="#a4a4a4"/>
<path d="M621.05 886.50V820.50H644.60V886.50" stroke="#1c1c1c" stroke-width="1.2" fill="none"/>
<path d="M503.30 797.70V886.50" stroke="#8c8c8c" stroke-width="1" fill="none"/>
<path d="M499.00 886.50H644.60" stroke="#8c8c8c" stroke-width="1" fill="none"/>
<path d="M499.00 886.50H503.30" stroke="#8c8c8c" stroke-width="1" fill="none"/>
<text x="492.10" y="890.90" class="tk">0</text>
<path d="M499.00 857.00H503.30" stroke="#8c8c8c" stroke-width="1" fill="none"/>
<text x="492.10" y="861.40" class="tk">1</text>
<path d="M499.00 827.50H503.30" stroke="#8c8c8c" stroke-width="1" fill="none"/>
<text x="492.10" y="831.90" class="tk">2</text>
<path d="M499.00 798.00H503.30" stroke="#8c8c8c" stroke-width="1" fill="none"/>
<text x="492.10" y="802.40" class="tk">3</text>
<path d="M512.08 853.00h6M515.08 853.00V861.50M512.08 861.50h6" stroke="#1c1c1c" stroke-width="1.2" fill="none"/>
<path d="M535.62 819.50h6M538.62 819.50V831.50M535.62 831.50h6" stroke="#1c1c1c" stroke-width="1.2" fill="none"/>
<path d="M559.17 855.75h6M562.17 855.75V859.50M559.17 859.50h6" stroke="#1c1c1c" stroke-width="1.2" fill="none"/>
<path d="M582.73 809.50h6M585.73 809.50V819.25M582.73 819.25h6" stroke="#1c1c1c" stroke-width="1.2" fill="none"/>
<path d="M606.27 858.25h6M609.27 858.25V861.00M606.27 861.00h6" stroke="#1c1c1c" stroke-width="1.2" fill="none"/>
<path d="M629.83 815.00h6M632.83 815.00V825.50M629.83 825.50h6" stroke="#1c1c1c" stroke-width="1.2" fill="none"/>
<path d="M515.60 810.50V805.50H538.00V810.50" stroke="#1c1c1c" stroke-width="1.2" fill="none"/>
<path d="M526.10 796.25v5M523.90 797.50l4.4 2.5M523.90 800.00l4.4 -2.5" stroke="#222" stroke-width="1.15" fill="none"/><circle cx="526.10" cy="798.75" r="1.15" fill="#1a1a1a"/>
<path d="M563.60 806.00V801.00H585.80V806.00" stroke="#1c1c1c" stroke-width="1.2" fill="none"/>
<path d="M570.25 790.70v5M568.05 791.95l4.4 2.5M568.05 794.45l4.4 -2.5" stroke="#222" stroke-width="1.15" fill="none"/><circle cx="570.25" cy="793.20" r="1.15" fill="#1a1a1a"/>
<path d="M577.25 790.70v5M575.05 791.95l4.4 2.5M575.05 794.45l4.4 -2.5" stroke="#222" stroke-width="1.15" fill="none"/><circle cx="577.25" cy="793.20" r="1.15" fill="#1a1a1a"/>
<path d="M610.10 810.50V805.50H632.90V810.50" stroke="#1c1c1c" stroke-width="1.2" fill="none"/>
<path d="M617.10 795.60v5M614.90 796.85l4.4 2.5M614.90 799.35l4.4 -2.5" stroke="#222" stroke-width="1.15" fill="none"/><circle cx="617.10" cy="798.10" r="1.15" fill="#1a1a1a"/>
<path d="M624.10 795.60v5M621.90 796.85l4.4 2.5M621.90 799.35l4.4 -2.5" stroke="#222" stroke-width="1.15" fill="none"/><circle cx="624.10" cy="798.10" r="1.15" fill="#1a1a1a"/>
<text x="517.4" y="914.95" class="lb" textLength="14.0" lengthAdjust="spacingAndGlyphs">Ctrl</text>
<text x="540.7" y="914.95" class="lb" textLength="16.4" lengthAdjust="spacingAndGlyphs">KLA</text>
<text x="562.7" y="914.95" class="lb">18:1</text>
<text x="587" y="906.95" class="lb">18:1</text>
<text x="587" y="919.05" class="lb" textLength="16.4" lengthAdjust="spacingAndGlyphs">KLA</text>
<text x="609.1" y="914.95" class="lb">18:2</text>
<text x="631.4" y="906.95" class="lb">18:2</text>
<text x="631.4" y="919.05" class="lb" textLength="16.4" lengthAdjust="spacingAndGlyphs">KLA</text>
</svg>
</body></html>
